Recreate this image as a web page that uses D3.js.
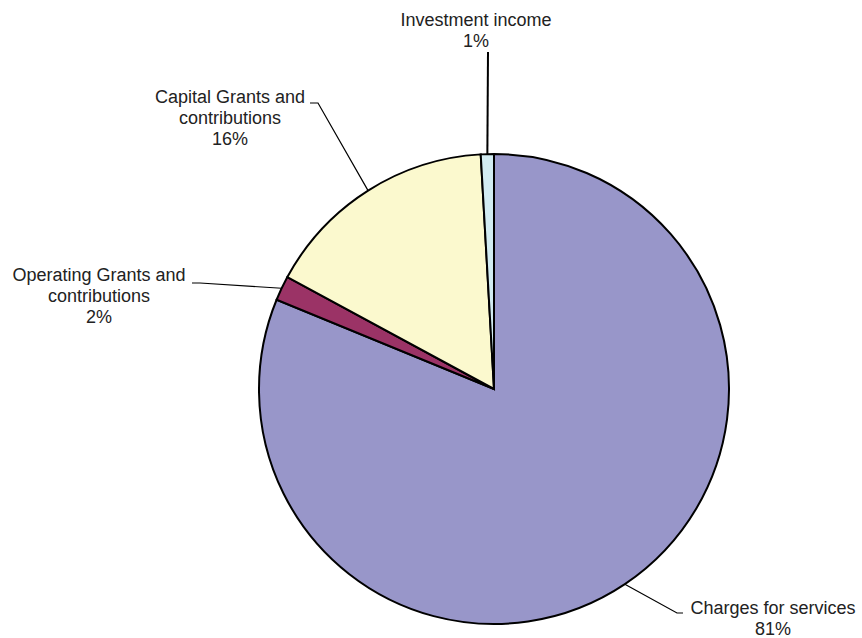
<!DOCTYPE html>
<html>
<head>
<meta charset="utf-8">
<script src="https://cdn.jsdelivr.net/npm/d3@7/dist/d3.min.js"></script>
<style>
  html, body { margin: 0; padding: 0; background: #ffffff; }
  svg { display: block; }
  text { font-family: "Liberation Sans", Arial, sans-serif; font-size: 18px; fill: #222222; }
</style>
</head>
<body>
<svg id="chart" width="862" height="638"></svg>
<script>
// Revenue sources (share of total, percent), drawn clockwise from 12 o'clock
const categories = [
  "Charges for services",
  "Operating Grants and contributions",
  "Capital Grants and contributions",
  "Investment income"
];
const shares = [81.2, 1.7, 16.2, 0.9];
const colors = ["#9896c9", "#9b3366", "#fbf9ce", "#d2ecf2"];

const svg = d3.select("#chart");
const cx = 494, cy = 389, radius = 235;

const data = categories.map((name, i) => ({ name, value: shares[i], color: colors[i] }));
const total = d3.sum(shares);
const pct = d3.format(".0%");

const pie = d3.pie().value(d => d.value).sort(null);
const arcs = pie(data);
const arc = d3.arc().innerRadius(0).outerRadius(radius);

const g = svg.append("g").attr("transform", `translate(${cx},${cy})`);

g.selectAll("path.slice")
  .data(arcs)
  .join("path")
  .attr("class", "slice")
  .attr("d", arc)
  .attr("fill", d => d.data.color)
  .attr("stroke", "#000")
  .attr("stroke-width", 2)
  .attr("stroke-linejoin", "miter");

// Point on the rim at the middle of a slice
function rimPoint(d) {
  const a = (d.startAngle + d.endAngle) / 2;
  return [radius * Math.sin(a), -radius * Math.cos(a)];
}

// Label placement: leader elbow/end (relative to pie centre) and text centre
const labelLayout = [
  { elbow: [183, 224], end: [189, 224], text: [279, 219] },
  { elbow: [-294, -106], end: [-302, -106], text: [-395, -114] },
  { elbow: [-176, -286], end: [-184, -286], text: [-264, -292] },
  { elbow: [-6, -337], end: [-6, -337], text: [-18, -369] }
];

arcs.forEach((d, i) => {
  const L = labelLayout[i];
  const p = rimPoint(d);
  g.append("polyline")
    .attr("points", [p, L.elbow, L.end].map(q => q.join(",")).join(" "))
    .attr("fill", "none")
    .attr("stroke", "#000")
    .attr("stroke-width", i === 3 ? 2 : 1.2);

  const name = d.data.name;
  const k = name.indexOf(" and ");
  const lines = k >= 0 ? [name.slice(0, k + 4), name.slice(k + 5)] : [name];
  lines.push(pct(d.data.value / total));

  const lh = 21;
  const t = g.append("text")
    .attr("text-anchor", "middle")
    .attr("x", L.text[0])
    .attr("y", L.text[1]);
  lines.forEach((s, j) => {
    t.append("tspan")
      .attr("x", L.text[0])
      .attr("y", L.text[1] + j * lh)
      .attr("dy", "0.35em")
      .text(s);
  });
});
</script>
</body>
</html>
